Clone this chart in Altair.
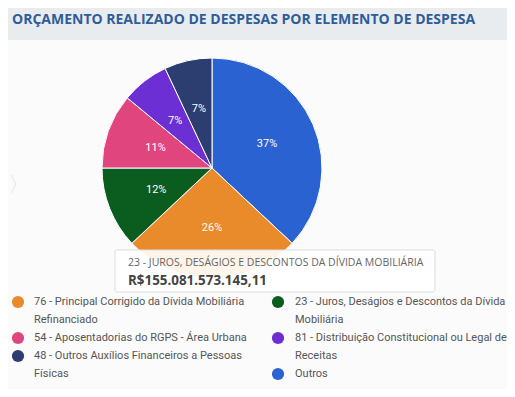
import altair as alt
import pandas as pd

# ---- data ----
categories = [
    "Outros",
    "76 - Principal Corrigido da Dívida Mobiliária Refinanciado",
    "23 - Juros, Deságios e Descontos da Dívida Mobiliária",
    "54 - Aposentadorias do RGPS - Área Urbana",
    "81 - Distribuição Constitucional ou Legal de Receitas",
    "48 - Outros Auxílios Financeiros a Pessoas Físicas",
]
percents = [37, 26, 12, 11, 7, 7]
colors = ["#2A63D1", "#E98A2B", "#0B5C1F", "#E0457E", "#6B2FD3", "#2C3D70"]

legend_order = [1, 2, 3, 4, 5, 0]  # indices into categories
legend_texts = [
    "76 - Principal Corrigido da Dívida Mobiliária\nRefinanciado",
    "23 - Juros, Deságios e Descontos da Dívida\nMobiliária",
    "54 - Aposentadorias do RGPS - Área Urbana",
    "81 - Distribuição Constitucional ou Legal de\nReceitas",
    "48 - Outros Auxílios Financeiros a Pessoas\nFísicas",
    "Outros",
]

title = "ORÇAMENTO REALIZADO DE DESPESAS POR ELEMENTO DE DESPESA"
tooltip_label = "23 - JUROS, DESÁGIOS E DESCONTOS DA DÍVIDA MOBILIÁRIA"
tooltip_value = "R$155.081.573.145,11"

# ---- layout ----
W, H = 499, 381
OFF = 8  # page margin
cx, cy, R = 212 - OFF, 168 - OFF, 110

pie_df = pd.DataFrame({"cat": categories, "pct": percents, "ord": list(range(len(categories)))})
pie_df["label"] = pie_df["pct"].astype(str) + "%"

color_scale = alt.Scale(domain=categories, range=colors)

base = alt.Chart(pie_df)
arcs = base.mark_arc(stroke="white", strokeWidth=1).encode(
    theta=alt.Theta("pct:Q", stack=True),
    color=alt.Color("cat:N", scale=color_scale, legend=None),
    order=alt.Order("ord:Q"),
    x=alt.value(cx), y=alt.value(cy), radius=alt.value(R),
)
labels = base.mark_text(color="white", fontSize=11, font="Roboto").encode(
    theta=alt.Theta("pct:Q", stack=True),
    order=alt.Order("ord:Q"),
    text="label:N",
    x=alt.value(cx), y=alt.value(cy), radius=alt.value(60),
)

# title bar
bar = alt.Chart(pd.DataFrame({"a": [0]})).mark_rect(color="#E9ECEF").encode(
    x=alt.value(0), x2=alt.value(W), y=alt.value(0), y2=alt.value(40 - OFF)
)
title_t = alt.Chart(pd.DataFrame({"t": [title]})).mark_text(
    align="left", baseline="middle", font="Open Sans", fontWeight="bold",
    fontSize=14, color="#2F5D9A"
).encode(text="t:N", x=alt.value(12 - OFF), y=alt.value(20 - OFF))

chev = alt.Chart(pd.DataFrame({"t": ["〉"]})).mark_text(
    font="DejaVu Sans", fontSize=22, color="#E4E4E4", align="left", baseline="middle"
).encode(text="t:N", x=alt.value(0), y=alt.value(185 - OFF))

# tooltip box
tip_box = alt.Chart(pd.DataFrame({"a": [0]})).mark_rect(
    fill="white", fillOpacity=0.9, stroke="#DDDDDD", strokeWidth=1, cornerRadius=2
).encode(x=alt.value(115 - OFF), x2=alt.value(435 - OFF), y=alt.value(250 - OFF), y2=alt.value(292 - OFF))
tip_t1 = alt.Chart(pd.DataFrame({"t": [tooltip_label]})).mark_text(
    align="left", baseline="middle", font="Open Sans", fontSize=10.5, color="#666666"
).encode(text="t:N", x=alt.value(128 - OFF), y=alt.value(263 - OFF))
tip_t2 = alt.Chart(pd.DataFrame({"t": [tooltip_value]})).mark_text(
    align="left", baseline="middle", font="Open Sans", fontWeight="bold", fontSize=13.4, color="#444444"
).encode(text="t:N", x=alt.value(128 - OFF), y=alt.value(281 - OFF))

# legend
line_h = 18
rows = []
col_rows = [0, 0]
for k, idx in enumerate(legend_order):
    col = k % 2
    txt = legend_texts[k]
    r = col_rows[col]
    rows.append({
        "cat": categories[idx],
        "text": txt,
        "mx": (18 if col == 0 else 278) - OFF,
        "tx": (34 if col == 0 else 295) - OFF,
        "py": 302 - OFF + r * line_h,
    })
    col_rows[col] += txt.count("\n") + 1
leg_df = pd.DataFrame(rows)
leg_marks = alt.Chart(leg_df).mark_circle(size=150, opacity=1).encode(
    x=alt.X("mx:Q", scale=None), y=alt.Y("py:Q", scale=None),
    color=alt.Color("cat:N", scale=color_scale, legend=None),
)
leg_text = alt.Chart(leg_df).mark_text(
    align="left", baseline="middle", font="Roboto", fontSize=11, color="#555555",
    lineBreak="\n", lineHeight=line_h
).encode(x=alt.X("tx:Q", scale=None), y=alt.Y("py:Q", scale=None), text="text:N")

chart = alt.layer(
    bar, title_t, chev, arcs, labels, tip_box, tip_t1, tip_t2, leg_marks, leg_text
).properties(
    width=W, height=H, padding=0, autosize=alt.AutoSizeParams(type="none"),
    background="#FBFBFB"
).configure_view(stroke=None)

chart.save("out.html", embed_options={"renderer": "svg", "actions": False})
